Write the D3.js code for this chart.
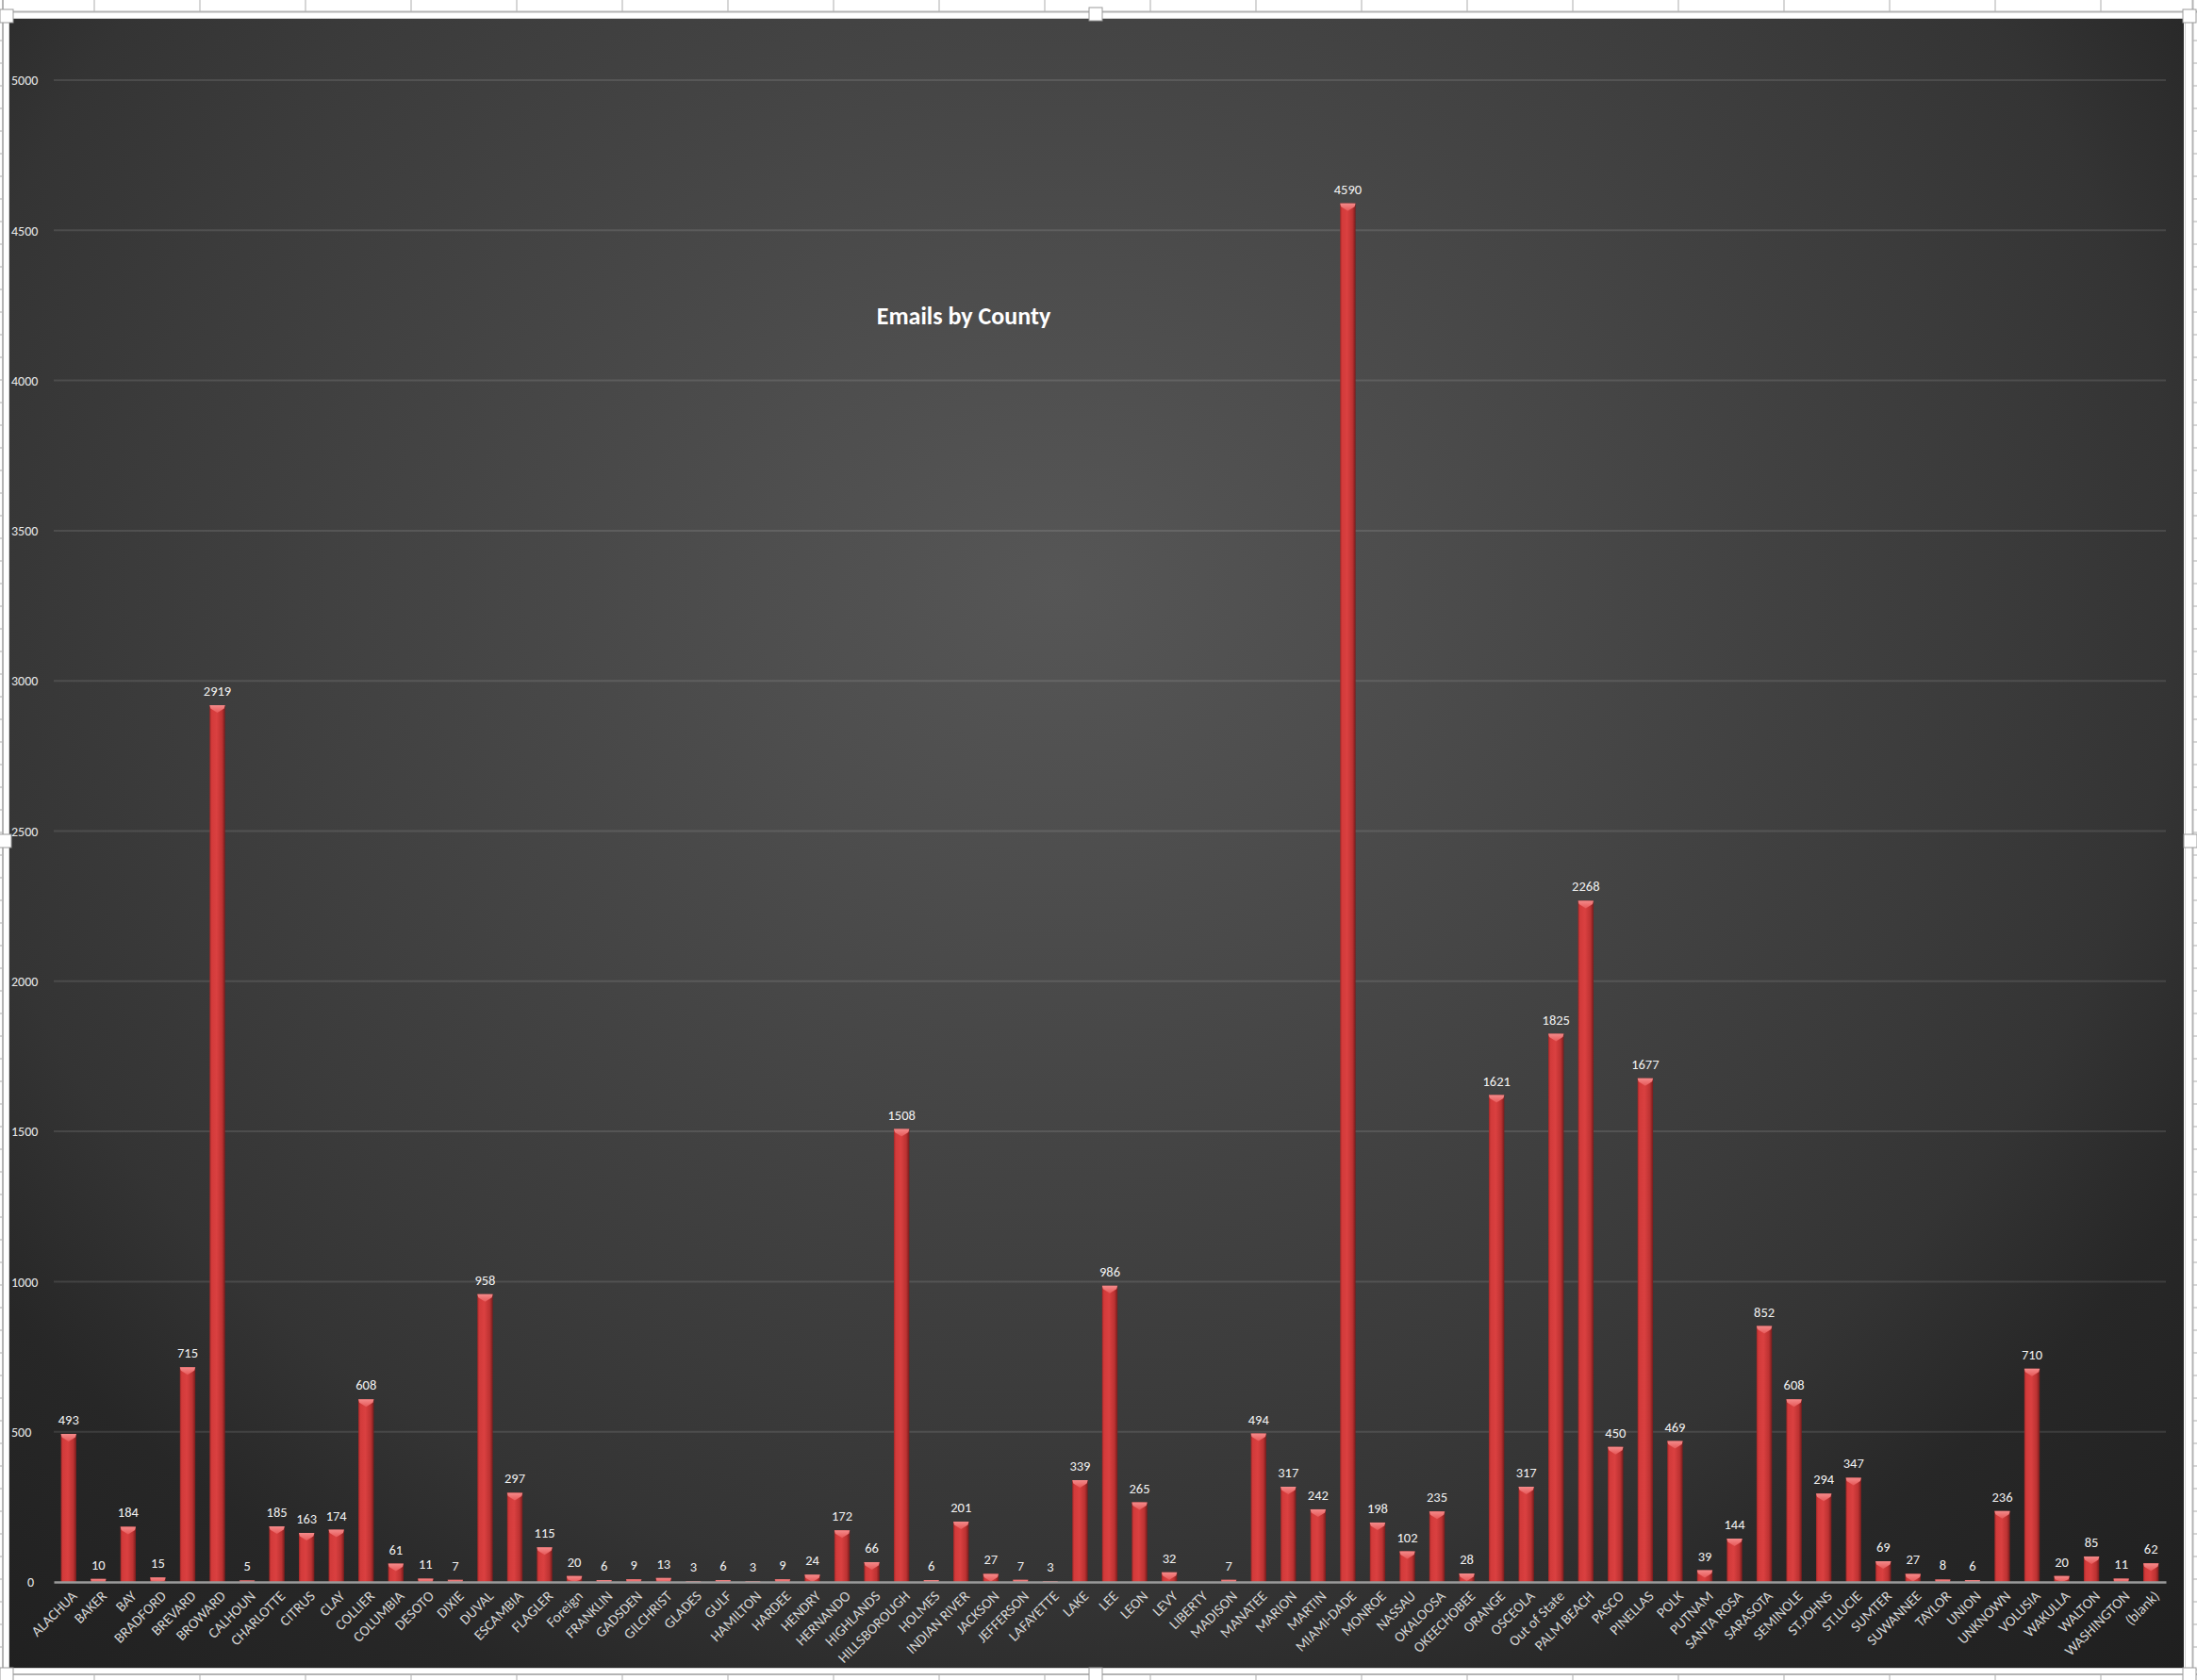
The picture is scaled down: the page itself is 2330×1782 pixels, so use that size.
<!DOCTYPE html>
<html>
<head>
<meta charset="utf-8">
<script src="https://cdn.jsdelivr.net/npm/d3@7/dist/d3.min.js"></script>
<style>
  html, body { margin: 0; padding: 0; background: #ffffff; }
  svg { display: block; }
  text { font-family: Carlito, Lato, "Open Sans", sans-serif; }
</style>
</head>
<body>
<svg id="chart" width="2330" height="1782"></svg>
<script>
const categories = ["ALACHUA","BAKER","BAY","BRADFORD","BREVARD","BROWARD","CALHOUN","CHARLOTTE","CITRUS","CLAY","COLLIER","COLUMBIA","DESOTO","DIXIE","DUVAL","ESCAMBIA","FLAGLER","Foreign","FRANKLIN","GADSDEN","GILCHRIST","GLADES","GULF","HAMILTON","HARDEE","HENDRY","HERNANDO","HIGHLANDS","HILLSBOROUGH","HOLMES","INDIAN RIVER","JACKSON","JEFFERSON","LAFAYETTE","LAKE","LEE","LEON","LEVY","LIBERTY","MADISON","MANATEE","MARION","MARTIN","MIAMI-DADE","MONROE","NASSAU","OKALOOSA","OKEECHOBEE","ORANGE","OSCEOLA","Out of State","PALM BEACH","PASCO","PINELLAS","POLK","PUTNAM","SANTA ROSA","SARASOTA","SEMINOLE","ST.JOHNS","ST.LUCIE","SUMTER","SUWANNEE","TAYLOR","UNION","UNKNOWN","VOLUSIA","WAKULLA","WALTON","WASHINGTON","(blank)"];
const emails = [493,10,184,15,715,2919,5,185,163,174,608,61,11,7,958,297,115,20,6,9,13,3,6,3,9,24,172,66,1508,6,201,27,7,3,339,986,265,32,null,7,494,317,242,4590,198,102,235,28,1621,317,1825,2268,450,1677,469,39,144,852,608,294,347,69,27,8,6,236,710,20,85,11,62];
const yTicks = [0,500,1000,1500,2000,2500,3000,3500,4000,4500,5000];
const chartTitle = "Emails by County";

const W = 2330, H = 1782;
const svg = d3.select("#chart");
const defs = svg.append("defs");

// background gradient for chart area
const bg = defs.append("radialGradient").attr("id","bgGrad")
  .attr("gradientUnits","userSpaceOnUse")
  .attr("cx",1120).attr("cy",620).attr("r",1750)
  .attr("gradientTransform","translate(1120,620) scale(1,0.9) translate(-1120,-620)");
[[0,"#565656"],[0.2,"#4d4d4d"],[0.32,"#474747"],[0.56,"#3b3b3b"],[0.68,"#343434"],[0.8,"#272727"],[1,"#1f1f1f"]]
  .forEach(s => bg.append("stop").attr("offset",s[0]).attr("stop-color",s[1]));

// bar gradient
const bgr = defs.append("linearGradient").attr("id","barGrad").attr("x1","0").attr("x2","1").attr("y1","0").attr("y2","0");
[[0,"#9e2626"],[0.12,"#d23a3a"],[0.45,"#da4040"],[0.8,"#bc3232"],[1,"#761c1c"]]
  .forEach(s => bgr.append("stop").attr("offset",s[0]).attr("stop-color",s[1]));
const capG = defs.append("linearGradient").attr("id","capGrad").attr("x1","0").attr("x2","0").attr("y1","0").attr("y2","1");
[[0,"#f48a8a"],[1,"#e65858"]].forEach(s => capG.append("stop").attr("offset",s[0]).attr("stop-color",s[1]));

// ---- spreadsheet surroundings ----
const sheet = svg.append("g");
sheet.append("rect").attr("width",W).attr("height",H).attr("fill","#ffffff");
const colStep = 112, colStart = 100;
for (let x = colStart; x < W; x += colStep) {
  sheet.append("line").attr("x1",x).attr("x2",x).attr("y1",0).attr("y2",12).attr("stroke","#c8c8c8").attr("stroke-width",1.5);
  sheet.append("line").attr("x1",x).attr("x2",x).attr("y1",1776).attr("y2",H).attr("stroke","#c8c8c8").attr("stroke-width",1.5);
}
for (let y = 43; y < H; y += 24) {
  sheet.append("line").attr("x1",0).attr("x2",3).attr("y1",y).attr("y2",y).attr("stroke","#c8c8c8").attr("stroke-width",1.5);
  sheet.append("line").attr("x1",2325).attr("x2",W).attr("y1",y).attr("y2",y).attr("stroke","#c8c8c8").attr("stroke-width",1.5);
}
sheet.append("line").attr("x1",0).attr("x2",W).attr("y1",12.5).attr("y2",12.5).attr("stroke","#b4b4b4").attr("stroke-width",2);
sheet.append("line").attr("x1",0).attr("x2",W).attr("y1",1776).attr("y2",1776).attr("stroke","#b4b4b4").attr("stroke-width",2);
sheet.append("line").attr("x1",3).attr("x2",3).attr("y1",0).attr("y2",H).attr("stroke","#b4b4b4").attr("stroke-width",2);
sheet.append("line").attr("x1",2325.5).attr("x2",2325.5).attr("y1",0).attr("y2",H).attr("stroke","#b4b4b4").attr("stroke-width",2);
// chart object frame
sheet.append("rect").attr("x",4).attr("y",14).attr("width",2320).attr("height",1761).attr("fill","#ffffff");
sheet.append("rect").attr("x",9.5).attr("y",19.5).attr("width",2308).attr("height",1750).attr("fill","none").attr("stroke","#d0d0d0").attr("stroke-width",1);

// dark chart area
svg.append("rect").attr("x",10).attr("y",20).attr("width",2306).attr("height",1749).attr("fill","url(#bgGrad)");

// ---- scales ----
const x = d3.scaleBand().domain(categories).range([57, 2297]).paddingInner(0.48).paddingOuter(0.24);
const y = d3.scaleLinear().domain([0, 5000]).range([1678, 85]);

// gridlines
const grid = svg.append("g");
grid.selectAll("line.g").data(yTicks.filter(d => d > 0)).join("line")
  .attr("x1", x.range()[0]).attr("x2", x.range()[1])
  .attr("y1", d => y(d)).attr("y2", d => y(d))
  .attr("stroke", "rgba(255,255,255,0.11)").attr("stroke-width", 2);

// y axis labels
const yAxis = d3.axisLeft(y).tickValues(yTicks).tickSize(0).tickFormat(d3.format("d"));
const yg = svg.append("g").attr("transform","translate(12,0)").call(yAxis);
yg.select(".domain").remove();
yg.selectAll("text")
  .attr("text-anchor","start")
  .attr("x", d => d === 0 ? 17 : 0)
  .attr("dy","0.34em")
  .attr("fill","#e8e8e8")
  .style("font-size","14px");

// bars
const data = categories.map((c, i) => ({ c, v: emails[i] }));
const bars = svg.append("g");
const bw = x.bandwidth();
data.filter(d => d.v !== null).forEach(d => {
  const x0 = x(d.c), top = y(d.v), h = y(0) - y(d.v);
  bars.append("rect").attr("x", x0).attr("y", top).attr("width", bw).attr("height", h).attr("fill","url(#barGrad)");
  const ch = Math.min(8, h);
  const cap = Math.min(3.5, h);
  bars.append("path")
    .attr("d", `M${x0},${top} L${x0 + bw},${top} L${x0 + bw - 1},${top + cap} L${x0 + bw/2},${top + ch} L${x0 + 1},${top + cap} Z`)
    .attr("fill","url(#capGrad)");
});

// baseline axis
const xAxis = d3.axisBottom(x).tickSize(0).tickFormat(d => d);
const xg = svg.append("g").attr("transform", `translate(0,${y(0)})`).call(xAxis);
xg.select(".domain").attr("stroke","#9a9a9a").attr("stroke-width",2.5);
xg.selectAll(".tick text")
  .attr("text-anchor","end")
  .attr("transform","translate(6,12) rotate(-45)")
  .attr("x",0).attr("y",0).attr("dy","0.35em")
  .attr("fill","#d4d4d4")
  .style("font-size","15.5px");

// value labels
svg.append("g").selectAll("text").data(data.filter(d => d.v !== null)).join("text")
  .attr("x", d => x(d.c) + bw / 2)
  .attr("y", d => y(d.v) - 10)
  .attr("text-anchor","middle")
  .attr("fill","#f2f2f2")
  .style("font-size","14.5px")
  .text(d => d.v);

// title
svg.append("text").attr("x", 1022).attr("y", 344).attr("text-anchor","middle")
  .attr("fill","#ffffff").style("font-size","26px").style("font-weight","bold")
  .text(chartTitle);

// selection handles
const handles = [[0,10],[1155,8],[2315,10],[-2,885],[2316,885],[1155,1769],[0,1769],[2315,1769]];
svg.append("g").selectAll("rect").data(handles).join("rect")
  .attr("x", d => d[0]).attr("y", d => d[1]).attr("width", 14).attr("height", 14)
  .attr("fill","#ffffff").attr("stroke","#9a9a9a").attr("stroke-width",1);
</script>
</body>
</html>
